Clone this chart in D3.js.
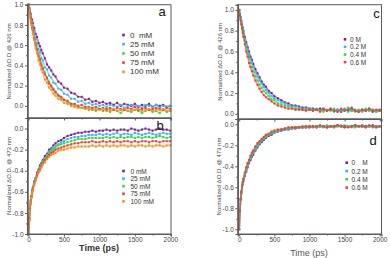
<!DOCTYPE html>
<html><head><meta charset="utf-8">
<script src="https://cdn.jsdelivr.net/npm/d3@7"></script>
<style>body{margin:0;background:#fff}svg{display:block}text{font-family:"Liberation Sans",Arial,sans-serif}</style>
</head><body><svg id="chart" width="390" height="258"></svg>
<script>
// ---- data ----
const timePs = [0,10,20,30,40,50,60,80,100,120,140,160,180,200,230,260,290,320,350,380,420,460,500,550,600,650,700,750,800,850,900,950,1000,1050,1100,1150,1200,1250,1300,1350,1400,1450,1500,1550,1600,1650,1700,1750,1800,1850,1900,1950,2000];

const xTicks = [0,500,1000,1500,2000];
const yTicksPos = [0.0,0.2,0.4,0.6,0.8,1.0];
const yTicksNeg = [-1.0,-0.8,-0.6,-0.4,-0.2,0.0];

const labelsMM = ["0  mM","25 mM","50 mM","75 mM","100 mM"];
const labelsMMb = ["0 mM","25 mM","50 mM","75 mM","100 mM"];
const labelsM = ["0 M","0.2 M","0.4 M","0.6 M"];
const labelsMd = ["0    M","0.2 M","0.4 M","0.6 M"];

// panel a : 426 nm, 0-100 mM
const a0 = [1.00,0.97,0.93,0.91,0.86,0.85,0.82,0.77,0.71,0.68,0.62,0.59,0.55, 0.52,0.47,0.41,0.38,0.35,0.31,0.29,0.24,0.22,0.18,0.17,0.13,0.12,0.09,0.09,0.06,0.07,0.04,0.05,0.03, 0.04,0.02,0.03,0.01,0.03,0.00,0.02,0.01,0.00,0.02,-0.01,0.01,0.00,0.02,-0.01,0.01,0.00,0.01,-0.01,0.00];
const a1 = [1.00,0.96,0.91,0.89,0.84,0.82,0.78,0.73,0.66,0.62,0.56,0.53,0.47, 0.45,0.38,0.36,0.30,0.28,0.23,0.22,0.17,0.16,0.12,0.11,0.07,0.07,0.04,0.05,0.02,0.03,0.01,0.02,0.00, 0.01,-0.01,0.01,0.00,-0.01,0.01,-0.02,0.00,0.01,-0.01,0.00,-0.02,0.01,0.00,-0.01,0.01,-0.02,0.00,-0.01,0.00];
const a2 = [1.00,0.95,0.91,0.86,0.83,0.78,0.75,0.67,0.62,0.55,0.51,0.45,0.42, 0.37,0.33,0.27,0.24,0.19,0.17,0.13,0.11,0.07,0.06,0.03,0.02,0.00,-0.01,-0.02,-0.02,-0.04,-0.03,-0.05,-0.03, -0.05,-0.04,-0.06,-0.04,-0.05,-0.07,-0.04,-0.05,-0.06,-0.04,-0.05,-0.07,-0.05,-0.04,-0.06,-0.05,-0.07,-0.04,-0.06,-0.05];
const a3 = [1.00,0.95,0.90,0.87,0.82,0.77,0.75,0.67,0.60,0.56,0.49,0.46,0.40, 0.37,0.31,0.28,0.22,0.20,0.16,0.14,0.10,0.09,0.06,0.05,0.02,0.02,0.00,0.01,-0.01,-0.01,-0.02,-0.01,-0.03, -0.02,-0.03,-0.02,-0.04,-0.02,-0.03,-0.04,-0.02,-0.03,-0.01,-0.04,-0.03,-0.02,-0.04,-0.03,-0.02,-0.03,-0.04,-0.02,-0.03];
const a4 = [1.00,0.94,0.90,0.84,0.80,0.76,0.71,0.65,0.57,0.52,0.45,0.41,0.36, 0.33,0.26,0.23,0.18,0.16,0.12,0.10,0.07,0.06,0.03,0.02,0.00,-0.01,-0.02,-0.02,-0.03,-0.02,-0.04,-0.03,-0.04, -0.03,-0.05,-0.04,-0.03,-0.05,-0.04,-0.03,-0.05,-0.04,-0.04,-0.03,-0.05,-0.04,-0.03,-0.05,-0.04,-0.04,-0.03,-0.05,-0.04];

// panel b : 473 nm, 0-100 mM
const b0 = [-1.00,-0.85,-0.76,-0.68,-0.64,-0.59,-0.56,-0.50,-0.47,-0.42,-0.39,-0.35,-0.33, -0.30,-0.26,-0.24,-0.20,-0.19,-0.16,-0.14,-0.12,-0.11,-0.09,-0.07,-0.06,-0.05,-0.04,-0.04,-0.03,-0.03,-0.02,-0.03,-0.02, -0.02,-0.01,-0.02,-0.01,-0.02,-0.01,-0.01,-0.02,0.00,-0.01,-0.02,-0.01,0.00,-0.01,-0.02,-0.01,0.00,-0.01,-0.01,-0.02];
const b1 = [-1.00,-0.86,-0.76,-0.69,-0.64,-0.60,-0.57,-0.51,-0.47,-0.43,-0.40,-0.37,-0.34, -0.31,-0.28,-0.25,-0.22,-0.20,-0.18,-0.16,-0.15,-0.13,-0.12,-0.10,-0.09,-0.08,-0.08,-0.07,-0.07,-0.06,-0.06,-0.06,-0.05, -0.06,-0.05,-0.06,-0.05,-0.04,-0.06,-0.05,-0.05,-0.06,-0.04,-0.05,-0.06,-0.05,-0.04,-0.05,-0.06,-0.05,-0.04,-0.05,-0.05];
const b2 = [-1.00,-0.86,-0.77,-0.70,-0.64,-0.61,-0.57,-0.52,-0.48,-0.44,-0.40,-0.37,-0.35, -0.32,-0.29,-0.26,-0.23,-0.21,-0.20,-0.18,-0.16,-0.15,-0.14,-0.13,-0.12,-0.11,-0.10,-0.10,-0.10,-0.09,-0.09,-0.09,-0.09, -0.09,-0.08,-0.09,-0.08,-0.09,-0.08,-0.09,-0.08,-0.08,-0.09,-0.08,-0.09,-0.08,-0.08,-0.09,-0.08,-0.07,-0.08,-0.09,-0.08];
const b3 = [-1.00,-0.87,-0.77,-0.71,-0.65,-0.62,-0.58,-0.53,-0.49,-0.44,-0.41,-0.39,-0.36, -0.33,-0.30,-0.28,-0.25,-0.23,-0.22,-0.20,-0.19,-0.18,-0.17,-0.16,-0.15,-0.14,-0.14,-0.13,-0.13,-0.13,-0.12,-0.13,-0.13, -0.12,-0.13,-0.12,-0.13,-0.12,-0.13,-0.12,-0.12,-0.13,-0.12,-0.13,-0.12,-0.12,-0.13,-0.12,-0.12,-0.13,-0.12,-0.12,-0.12];
const b4 = [-1.00,-0.87,-0.78,-0.71,-0.66,-0.62,-0.59,-0.53,-0.49,-0.46,-0.42,-0.40,-0.37, -0.34,-0.32,-0.29,-0.27,-0.25,-0.24,-0.23,-0.21,-0.20,-0.20,-0.19,-0.18,-0.18,-0.17,-0.17,-0.17,-0.17,-0.16,-0.17,-0.16, -0.17,-0.16,-0.17,-0.16,-0.17,-0.16,-0.16,-0.17,-0.16,-0.17,-0.16,-0.16,-0.17,-0.16,-0.17,-0.16,-0.16,-0.17,-0.16,-0.16];

// panel c : 426 nm, 0-0.6 M
const c0 = [1.00,0.96,0.93,0.89,0.86,0.83,0.80,0.74,0.69,0.64,0.60,0.55,0.52, 0.48,0.43,0.39,0.35,0.31,0.28,0.26,0.22,0.20,0.17,0.15,0.13,0.11,0.10,0.08,0.08,0.07,0.06,0.06,0.05, 0.05,0.04,0.05,0.04,0.03,0.05,0.03,0.04,0.02,0.04,0.03,0.05,0.03,0.02,0.04,0.03,0.05,0.02,0.03,0.04];
const c1 = [1.00,0.96,0.92,0.89,0.85,0.82,0.79,0.72,0.67,0.62,0.57,0.53,0.49, 0.45,0.40,0.36,0.32,0.29,0.26,0.23,0.20,0.17,0.15,0.13,0.11,0.10,0.08,0.07,0.07,0.06,0.05,0.05,0.05, 0.04,0.04,0.03,0.05,0.03,0.04,0.02,0.04,0.03,0.05,0.02,0.03,0.04,0.03,0.02,0.04,0.03,0.04,0.02,0.03];
const c2 = [1.00,0.96,0.91,0.87,0.84,0.80,0.76,0.70,0.64,0.58,0.54,0.49,0.45, 0.41,0.36,0.32,0.28,0.25,0.22,0.20,0.17,0.14,0.13,0.10,0.09,0.08,0.07,0.06,0.05,0.05,0.04,0.04,0.04, 0.03,0.05,0.03,0.02,0.04,0.03,0.05,0.02,0.04,0.03,0.06,0.03,0.02,0.04,0.03,0.05,0.03,0.04,0.02,0.03];
const c3 = [1.00,0.95,0.90,0.86,0.82,0.78,0.74,0.67,0.60,0.55,0.49,0.45,0.41, 0.37,0.32,0.28,0.24,0.21,0.18,0.16,0.14,0.12,0.10,0.08,0.07,0.06,0.05,0.05,0.04,0.04,0.04,0.03,0.04, 0.03,0.04,0.02,0.05,0.03,0.04,0.03,0.02,0.05,0.03,0.04,0.06,0.03,0.02,0.04,0.03,0.05,0.03,0.04,0.03];

// panel d : 473 nm, 0-0.6 M
const d0 = [-1.00,-0.83,-0.72,-0.66,-0.61,-0.57,-0.54,-0.49,-0.45,-0.41,-0.37,-0.34,-0.31, -0.29,-0.25,-0.22,-0.19,-0.17,-0.15,-0.13,-0.11,-0.10,-0.08,-0.07,-0.06,-0.05,-0.05,-0.04,-0.04,-0.03,-0.03,-0.03,-0.03, -0.02,-0.03,-0.02,-0.02,-0.03,-0.02,-0.02,-0.01,-0.02,-0.03,-0.02,-0.02,-0.01,-0.02,-0.02,-0.03,-0.02,-0.01,-0.02,-0.02];
const d1 = [-1.00,-0.82,-0.72,-0.65,-0.60,-0.56,-0.53,-0.48,-0.44,-0.40,-0.36,-0.33,-0.30, -0.27,-0.24,-0.21,-0.18,-0.16,-0.14,-0.12,-0.10,-0.09,-0.08,-0.06,-0.05,-0.05,-0.04,-0.04,-0.03,-0.03,-0.03,-0.03,-0.02, -0.03,-0.02,-0.02,-0.03,-0.02,-0.02,-0.03,-0.02,-0.01,-0.02,-0.02,-0.03,-0.02,-0.02,-0.01,-0.02,-0.02,-0.03,-0.02,-0.02];
const d2 = [-0.97,-0.82,-0.71,-0.65,-0.60,-0.56,-0.52,-0.47,-0.43,-0.38,-0.35,-0.32,-0.29, -0.26,-0.22,-0.20,-0.17,-0.15,-0.13,-0.11,-0.10,-0.08,-0.07,-0.06,-0.05,-0.04,-0.04,-0.03,-0.03,-0.03,-0.03,-0.02,-0.02, -0.02,-0.03,-0.02,-0.02,-0.01,-0.02,-0.03,-0.02,-0.02,-0.01,-0.02,-0.02,-0.03,-0.02,-0.01,-0.02,-0.02,-0.02,-0.03,-0.02];
const d3s = [-1.00,-0.82,-0.71,-0.64,-0.59,-0.55,-0.52,-0.46,-0.41,-0.37,-0.34,-0.30,-0.27, -0.25,-0.21,-0.18,-0.16,-0.14,-0.12,-0.10,-0.09,-0.07,-0.06,-0.05,-0.05,-0.04,-0.03,-0.03,-0.03,-0.03,-0.02,-0.02,-0.02, -0.02,-0.02,-0.01,-0.02,-0.03,-0.02,-0.02,-0.01,-0.02,-0.02,-0.03,-0.02,-0.01,-0.02,-0.02,-0.02,-0.01,-0.02,-0.03,-0.02];

const colors5 = ["#7a1f8c","#35b4f0","#33dd33","#f23c3c","#ff8a14"];
const colors4 = ["#7a1f8c","#35b4f0","#33dd33","#f23c3c"];

// ---- layout ----
const AX = "#5a5a5a", TX = "#444";
const panels = [
  {letter:"a", series:[a0,a1,a2,a3,a4], labels:labelsMM, colors:colors5, yd:[-0.12,1.0], yr:[118,4.7], xd:[-15,2010], xr:[27.5,171], yt:yTicksPos, showX:false,
   ylab:"Normalized \u0394O.D @ 426 nm", ylx:9.5, lt:{x:123.5, tx:130, y0:35, dy:9.2, fs:8}, lp:[162,16]},
  {letter:"b", series:[b0,b1,b2,b3,b4], labels:labelsMMb, colors:colors5, yd:[-1.0,0.1], yr:[234,118], xd:[-15,2010], xr:[27.5,171], yt:yTicksNeg, showX:true,
   ylab:"Normalized \u0394O.D. @ 473 nm", ylx:9, lt:{x:123.5, tx:130.5, y0:171, dy:7.6, fs:6.5}, lp:[160,129.5], xlab:{x:99,y:251,bold:true,fill:"#333"}},
  {letter:"c", series:[c0,c1,c2,c3], labels:labelsM, colors:colors4, yd:[-0.05,1.05], yr:[119,4.7], xd:[-20,2025], xr:[237.8,381.5], yt:yTicksPos, showX:false,
   ylab:"Normalized \u0394O.D. @ 426 nm", ylx:220.5, lt:{x:345, tx:350, y0:39.3, dy:7.6, fs:6.5}, lp:[376.5,18]},
  {letter:"d", series:[d0,d1,d2,d3s], labels:labelsMd, colors:colors4, yd:[-1.045,0.05], yr:[234,119], xd:[-20,2025], xr:[237.8,381.5], yt:yTicksNeg, showX:true,
   ylab:"Normalized \u0394O.D. @ 473 nm", ylx:219, lt:{x:346.7, tx:351.5, y0:162.7, dy:8.3, fs:6.5}, lp:[373,145], xlab:{x:309,y:256,bold:false,fill:"#555"}}
];

const svg = d3.select("#chart");
const fmt = d => d.toFixed(1);

panels.forEach(p => {
  const x = d3.scaleLinear().domain(p.xd).range(p.xr);
  const y = d3.scaleLinear().domain(p.yd).range(p.yr);
  const g = svg.append("g");

  // series
  p.series.forEach((vals, i) => {
    const pts = timePs.map((t, j) => [t, vals[j]]);
    g.append("path").datum(pts)
      .attr("d", d3.line().x(d => x(d[0])).y(d => y(d[1])))
      .attr("fill", "none").attr("stroke", p.colors[i]).attr("stroke-width", 1.6).attr("opacity", 0.55);
    g.selectAll(null).data(pts).enter().append("rect")
      .attr("x", d => x(d[0]) - 1).attr("y", d => y(d[1]) - 1)
      .attr("width", 2).attr("height", 2).attr("fill", p.colors[i]);
  });

  // frame
  g.append("rect").attr("x", p.xr[0]).attr("y", p.yr[1])
    .attr("width", p.xr[1] - p.xr[0]).attr("height", p.yr[0] - p.yr[1])
    .attr("fill", "none").attr("stroke", AX).attr("stroke-width", 1);

  // y axis major
  g.append("g").attr("transform", `translate(${p.xr[0]},0)`)
    .call(d3.axisLeft(y).tickValues(p.yt).tickSize(2.5).tickPadding(1.5).tickFormat(fmt));
  // y minor
  const yMinor = p.yt.slice(0, -1).map(v => +(v + 0.1).toFixed(1));
  g.append("g").attr("transform", `translate(${p.xr[0]},0)`)
    .call(d3.axisLeft(y).tickValues(yMinor).tickSize(1.5).tickFormat(""));

  // x axis
  g.append("g").attr("transform", `translate(0,${p.yr[0]})`)
    .call(d3.axisBottom(x).tickValues(xTicks).tickSize(2.5).tickPadding(1).tickFormat(p.showX ? d3.format("d") : ""));
  g.append("g").attr("transform", `translate(0,${p.yr[0]})`)
    .call(d3.axisBottom(x).tickValues(xTicks.slice(0, -1).map(v => v + 250)).tickSize(1.5).tickFormat(""));

  g.selectAll(".domain").attr("stroke", AX);
  g.selectAll(".tick line").attr("stroke", AX);
  g.selectAll(".tick text").attr("fill", TX).style("font-size", "6.5px")
    .style("font-family", '"Liberation Sans",Arial,sans-serif');

  // y label
  const cy = (p.yr[0] + p.yr[1]) / 2;
  g.append("text").attr("transform", `translate(${p.ylx},${cy}) rotate(-90)`)
    .attr("text-anchor", "middle").attr("dominant-baseline", "middle")
    .attr("fill", TX).style("font-size", "6px").text(p.ylab);

  // panel letter
  g.append("text").attr("x", p.lp[0]).attr("y", p.lp[1]).attr("text-anchor", "middle")
    .attr("fill", "#111").style("font-size", "13px").text(p.letter);

  // legend
  p.labels.forEach((lab, i) => {
    const ly = p.lt.y0 + i * p.lt.dy;
    g.append("rect").attr("x", p.lt.x - 1.3).attr("y", ly - 1.3).attr("width", 2.6).attr("height", 2.6).attr("fill", p.colors[i]);
    g.append("text").attr("x", p.lt.tx).attr("y", ly).attr("dominant-baseline", "central")
      .attr("fill", "#333").style("font-size", p.lt.fs + "px").style("white-space", "pre")
      .attr("xml:space", "preserve").text(lab);
  });

  // x label
  if (p.xlab) {
    g.append("text").attr("x", p.xlab.x).attr("y", p.xlab.y).attr("text-anchor", "middle")
      .attr("fill", p.xlab.fill).style("font-size", "9px")
      .style("font-weight", p.xlab.bold ? "bold" : "normal").text("Time (ps)");
  }
});
</script>
</body></html>
